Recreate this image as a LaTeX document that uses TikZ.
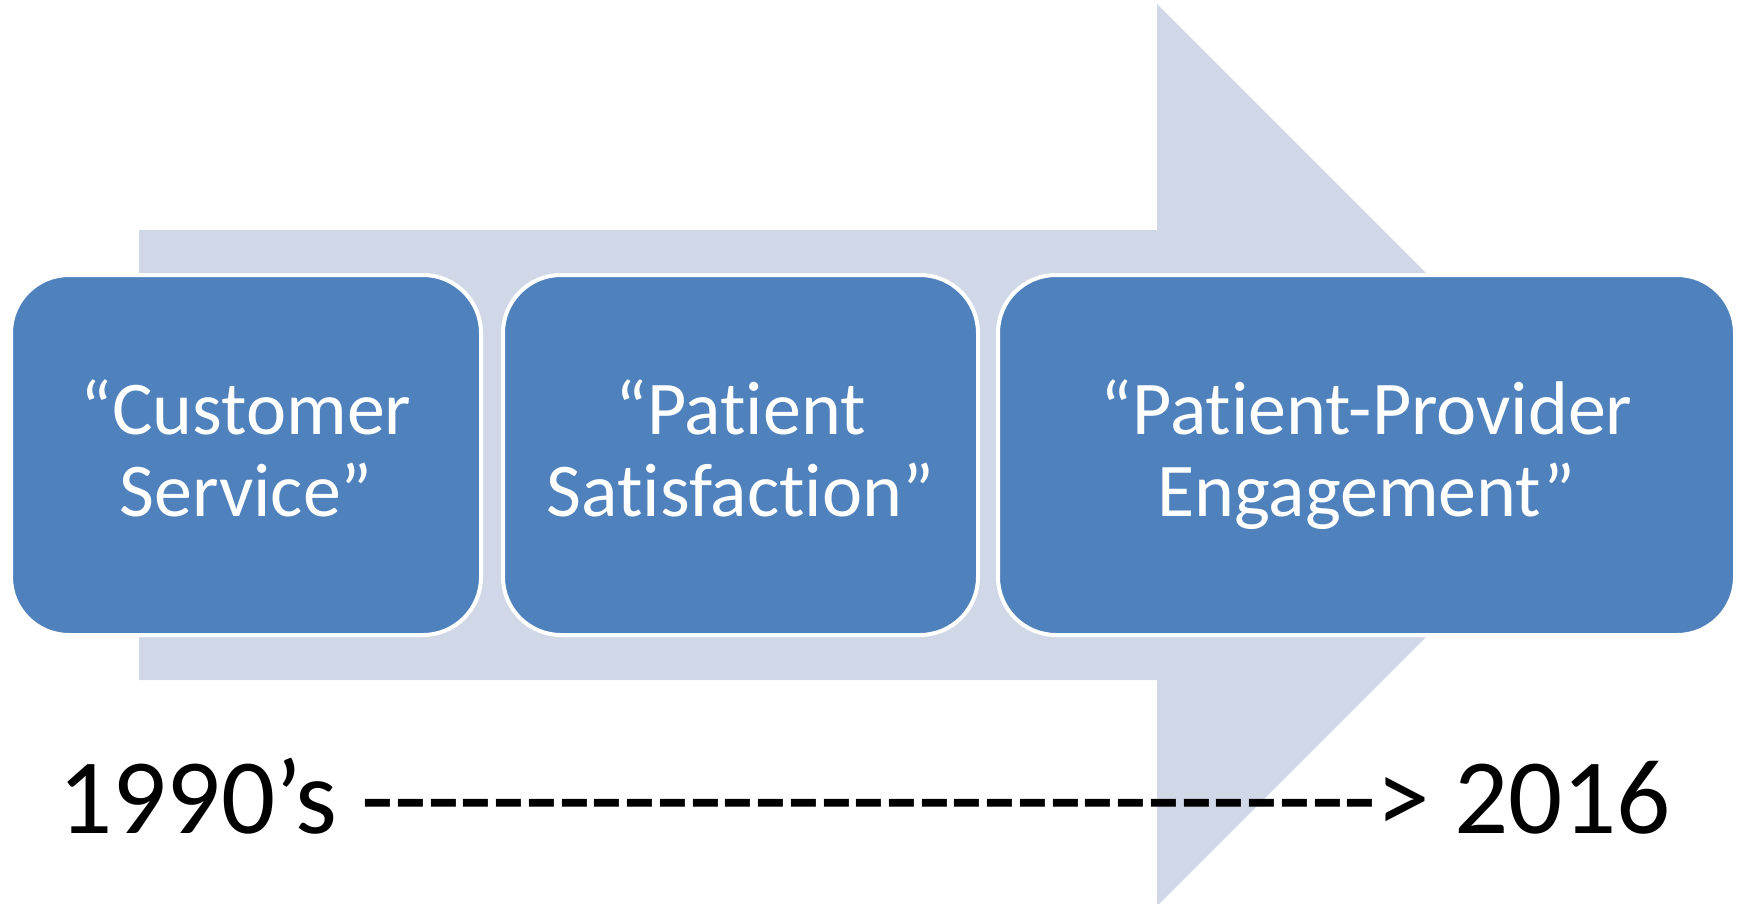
\documentclass[tikz,border=0pt]{standalone}
\usepackage{fontspec}
\setmainfont{Carlito}[Ligatures={TeXOff,CommonOff}]
\definecolor{arrowgray}{HTML}{D0D8E8}
\definecolor{stageblue}{HTML}{4F81BD}
\tikzset{stagebox/.style = {shape = rectangle,
                            rounded corners = 29pt,
                            fill = stageblue,
                            draw = white,
                            line width = 2pt,
                            minimum height = 180pt,
                            inner sep = 0pt,
                            text = white,
                            align = center,
                            execute at end node = {\vphantom{g}},
                            font = \fontsize{38}{41}\selectfont}}

\begin{document}
\begin{tikzpicture}[x=0.5pt, y=-0.5pt,
                    timeline/.style = {anchor = base west,
                                       inner sep = 0pt,
                                       font = \fontsize{53.5}{60}\selectfont}]
		\useasboundingbox (0,0) rectangle (1741,904);
		% big background arrow
		\fill[arrowgray] (139,230) -- (1157,230) -- (1157,4) -- (1608,455)
			-- (1157,906) -- (1157,680) -- (139,680) -- cycle;
		% foot of a cut-off letter at the top edge
		\fill (1343,0) arc[start angle=180, end angle=360, x radius=13.5, y radius=3.5] -- cycle;
		\node[stagebox, minimum width = 235pt] (customer) at (246,455) {“Customer\\Service”};
		\node[stagebox, minimum width = 237.5pt] (satisfaction) at (740.5,455) {“Patient\\Satisfaction”};
		\node[stagebox, minimum width = 368.5pt] (engagement) at (1366.5,455) {“Patient-Provider\\Engagement”};
		\node[timeline] (years) at (58,833) {1990’s -------------------------------> 2016};
	\end{tikzpicture}
\end{document}
